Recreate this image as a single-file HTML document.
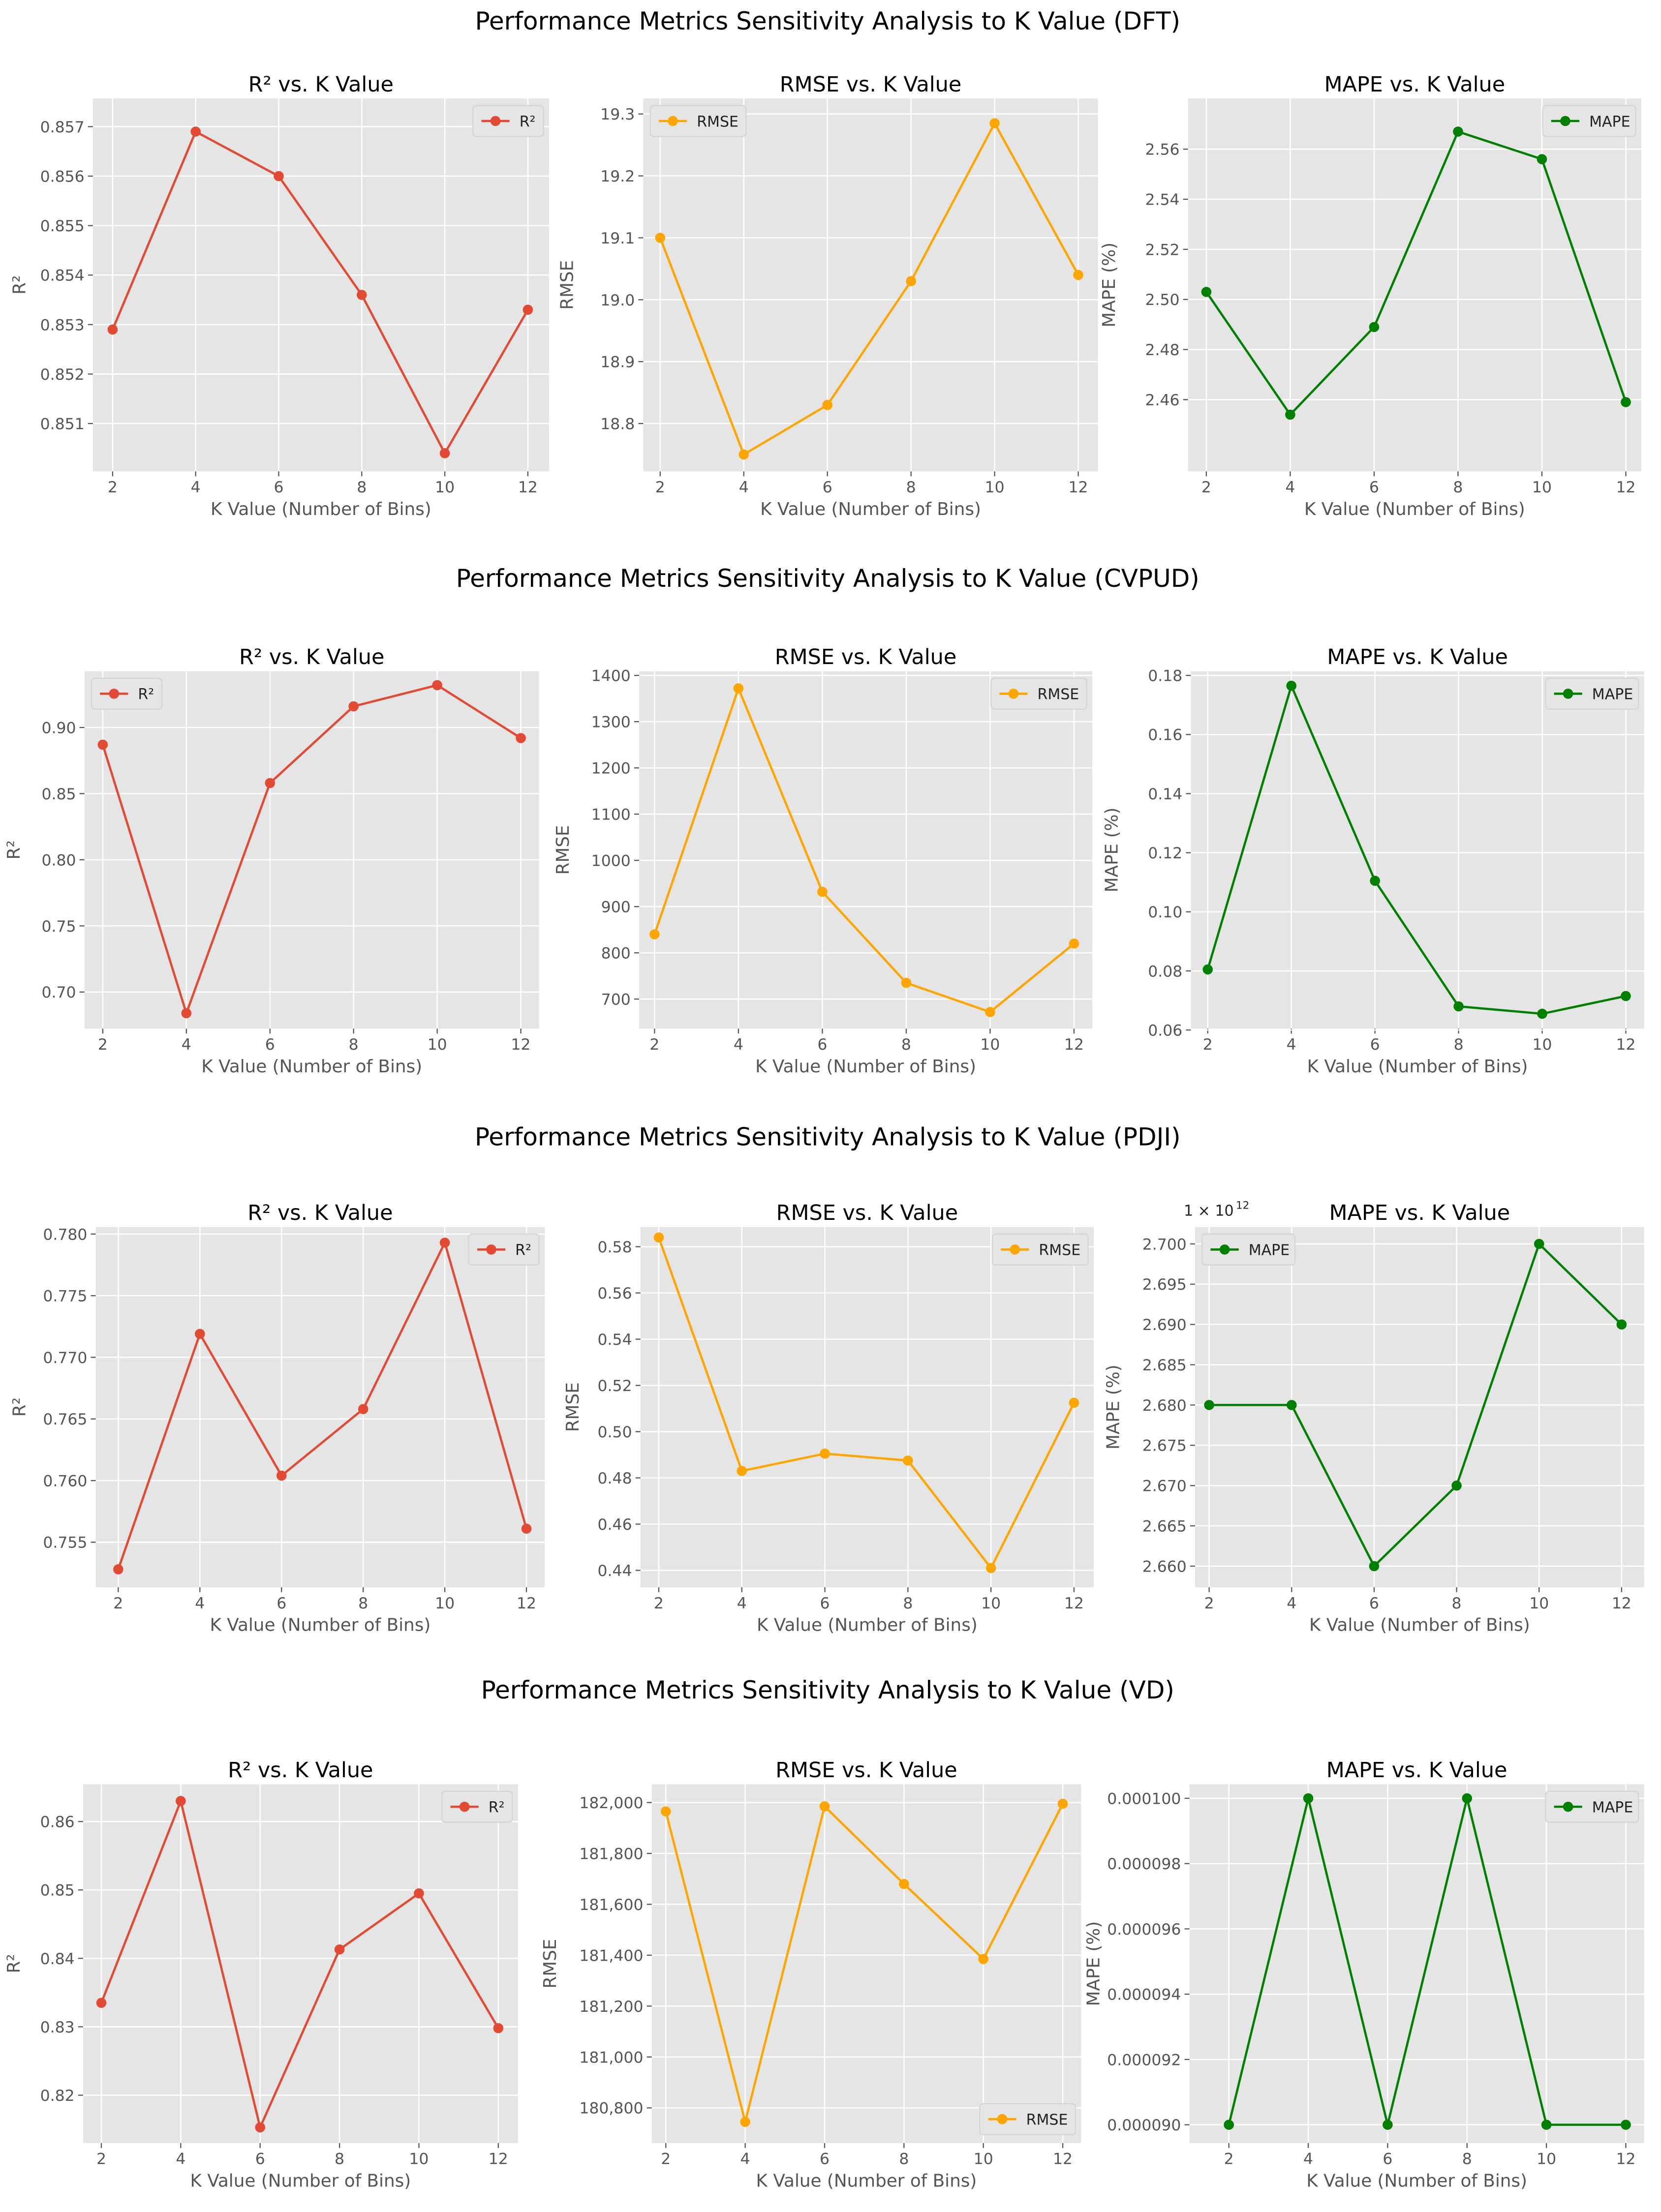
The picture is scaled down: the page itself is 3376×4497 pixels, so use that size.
<!DOCTYPE html>
<html><head><meta charset="utf-8"><style>
html,body{margin:0;padding:0;background:#fff;}
svg{display:block;font-family:"DejaVu Sans","Liberation Sans",sans-serif;}
</style></head><body>
<svg id="fig" width="3376" height="4497" viewBox="0 0 1180 1572" preserveAspectRatio="none" xmlns="http://www.w3.org/2000/svg"></svg>
<script>
const kValues = [2,4,6,8,10,12];
const dftR2 = [0.8529,0.8569,0.8560,0.8536,0.8504,0.8533];
const dftRMSE = [19.10,18.75,18.83,19.03,19.285,19.04];
const dftMAPE = [2.503,2.454,2.489,2.567,2.556,2.459];
const cvR2 = [0.887,0.684,0.858,0.916,0.932,0.892];
const cvRMSE = [840,1372,932,735,672,820];
const cvMAPE = [0.0805,0.1765,0.1105,0.068,0.0655,0.0715];
const pdR2 = [0.7528,0.7719,0.7604,0.7658,0.7793,0.7561];
const pdRMSE = [0.584,0.483,0.4905,0.4875,0.441,0.5125];
const pdMAPE = [2.68,2.68,2.66,2.67,2.70,2.69];
const vdR2 = [0.8335,0.863,0.8153,0.8413,0.8495,0.8298];
const vdRMSE = [181965,180745,181985,181680,181385,181995];
const vdMAPE = [0.000090,0.000100,0.000090,0.000100,0.000090,0.000090];

const tDftR2 = [0.851,0.852,0.853,0.854,0.855,0.856,0.857];
const lDftR2 = ["0.851","0.852","0.853","0.854","0.855","0.856","0.857"];
const tDftRMSE = [18.8,18.9,19.0,19.1,19.2,19.3];
const lDftRMSE = ["18.8","18.9","19.0","19.1","19.2","19.3"];
const tDftMAPE = [2.46,2.48,2.50,2.52,2.54,2.56];
const lDftMAPE = ["2.46","2.48","2.50","2.52","2.54","2.56"];
const tCvR2 = [0.70,0.75,0.80,0.85,0.90];
const lCvR2 = ["0.70","0.75","0.80","0.85","0.90"];
const tCvRMSE = [700,800,900,1000,1100,1200,1300,1400];
const lCvRMSE = ["700","800","900","1000","1100","1200","1300","1400"];
const tCvMAPE = [0.06,0.08,0.10,0.12,0.14,0.16,0.18];
const lCvMAPE = ["0.06","0.08","0.10","0.12","0.14","0.16","0.18"];
const tPdR2 = [0.755,0.760,0.765,0.770,0.775,0.780];
const lPdR2 = ["0.755","0.760","0.765","0.770","0.775","0.780"];
const tPdRMSE = [0.44,0.46,0.48,0.50,0.52,0.54,0.56,0.58];
const lPdRMSE = ["0.44","0.46","0.48","0.50","0.52","0.54","0.56","0.58"];
const tPdMAPE = [2.660,2.665,2.670,2.675,2.680,2.685,2.690,2.695,2.700];
const lPdMAPE = ["2.660","2.665","2.670","2.675","2.680","2.685","2.690","2.695","2.700"];
const tVdR2 = [0.82,0.83,0.84,0.85,0.86];
const lVdR2 = ["0.82","0.83","0.84","0.85","0.86"];
const tVdRMSE = [180800,181000,181200,181400,181600,181800,182000];
const lVdRMSE = ["180,800","181,000","181,200","181,400","181,600","181,800","182,000"];
const tVdMAPE = [0.000090,0.000092,0.000094,0.000096,0.000098,0.000100];
const lVdMAPE = ["0.000090","0.000092","0.000094","0.000096","0.000098","0.000100"];

const NS = "http://www.w3.org/2000/svg";
const svg = document.getElementById("fig");
function mk(tag, attrs, parent, text){
  const e = document.createElementNS(NS, tag);
  for (const k in attrs) e.setAttribute(k, attrs[k]);
  if (text !== undefined) e.textContent = text;
  (parent||svg).appendChild(e);
  return e;
}

const C = {r2:"#E24A33", rmse:"#FFA500", mape:"#008000"};

const suptitles = [
  ["Performance Metrics Sensitivity Analysis to K Value (DFT)", 15],
  ["Performance Metrics Sensitivity Analysis to K Value (CVPUD)", 411],
  ["Performance Metrics Sensitivity Analysis to K Value (PDJI)", 808],
  ["Performance Metrics Sensitivity Analysis to K Value (VD)", 1201]
];
suptitles.forEach(s=>{
  const t = mk("text",{x:588,y:s[1]+6,"text-anchor":"middle","font-size":17.5,fill:"#000"},svg,s[0]);
  
  
});

const panels = [
 {id:"dft-r2",box:[66,70,390,335],xm:[80,375],ym:[0.857,90,0.851,301],d:dftR2,t:tDftR2,l:lDftR2,c:C.r2,name:"R²",title:"R² vs. K Value",yl:"R²",leg:"ur",ylx:48},
 {id:"dft-rmse",box:[457,70,780,335],xm:[469,766],ym:[19.3,81,18.8,301],d:dftRMSE,t:tDftRMSE,l:lDftRMSE,c:C.rmse,name:"RMSE",title:"RMSE vs. K Value",yl:"RMSE",leg:"ul",ylx:50},
 {id:"dft-mape",box:[844,70,1166,335],xm:[857,1155],ym:[2.56,106,2.46,284],d:dftMAPE,t:tDftMAPE,l:lDftMAPE,c:C.mape,name:"MAPE",title:"MAPE vs. K Value",yl:"MAPE (%)",leg:"ur",ylx:52},
 {id:"cv-r2",box:[60,477,383,731],xm:[73,370],ym:[0.90,517,0.70,705],d:cvR2,t:tCvR2,l:lCvR2,c:C.r2,name:"R²",title:"R² vs. K Value",yl:"R²",leg:"ul",ylx:46},
 {id:"cv-rmse",box:[454,477,776,731],xm:[465,763],ym:[1400,480,700,710],d:cvRMSE,t:tCvRMSE,l:lCvRMSE,c:C.rmse,name:"RMSE",title:"RMSE vs. K Value",yl:"RMSE",leg:"ur",ylx:50},
 {id:"cv-mape",box:[846,477,1168,731],xm:[858,1155],ym:[0.18,480,0.06,732],d:cvMAPE,t:tCvMAPE,l:lCvMAPE,c:C.mape,name:"MAPE",title:"MAPE vs. K Value",yl:"MAPE (%)",leg:"ur",ylx:52},
 {id:"pd-r2",box:[68,872,387,1128],xm:[84,374],ym:[0.780,877,0.755,1096],d:pdR2,t:tPdR2,l:lPdR2,c:C.r2,name:"R²",title:"R² vs. K Value",yl:"R²",leg:"ur",ylx:50},
 {id:"pd-rmse",box:[455,872,777,1128],xm:[468,763],ym:[0.58,886,0.44,1116],d:pdRMSE,t:tPdRMSE,l:lPdRMSE,c:C.rmse,name:"RMSE",title:"RMSE vs. K Value",yl:"RMSE",leg:"ur",ylx:44},
 {id:"pd-mape",box:[849,872,1168,1128],xm:[859,1152],ym:[2.700,884,2.660,1113],d:pdMAPE,t:tPdMAPE,l:lPdMAPE,c:C.mape,name:"MAPE",title:"MAPE vs. K Value",yl:"MAPE (%)",leg:"ul",offset:true,ylx:54},
 {id:"vd-r2",box:[59,1268,368,1523],xm:[72,354],ym:[0.86,1294.5,0.82,1489],d:vdR2,t:tVdR2,l:lVdR2,c:C.r2,name:"R²",title:"R² vs. K Value",yl:"R²",leg:"ur",ylx:45},
 {id:"vd-rmse",box:[463,1268,768,1523],xm:[473,755],ym:[182000,1281,180800,1498],d:vdRMSE,t:tVdRMSE,l:lVdRMSE,c:C.rmse,name:"RMSE",title:"RMSE vs. K Value",yl:"RMSE",leg:"lr",ylx:68},
 {id:"vd-mape",box:[845,1268,1168,1523],xm:[873,1155],ym:[0.000100,1278,0.000090,1510],d:vdMAPE,t:tVdMAPE,l:lVdMAPE,c:C.mape,name:"MAPE",title:"MAPE vs. K Value",yl:"MAPE (%)",leg:"ur",ylx:64}
];

panels.forEach(p=>{
  const [L,T,R,B] = p.box;
  const xs = k => p.xm[0] + (k-2)*(p.xm[1]-p.xm[0])/10;
  const ys = v => p.ym[1] + (v-p.ym[0])*(p.ym[3]-p.ym[1])/(p.ym[2]-p.ym[0]);
  const g = mk("g",{});
  
  
  const bg = mk("rect",{x:L,y:T,width:R-L,height:B-T,fill:"#E5E5E5"},g);
  
  
  kValues.forEach(k=>{
    mk("line",{x1:xs(k),x2:xs(k),y1:T,y2:B,stroke:"#fff","stroke-width":0.9},g);
    mk("line",{x1:xs(k),x2:xs(k),y1:B,y2:B+3.5,stroke:"#555","stroke-width":0.8},g);
    const tl = mk("text",{x:xs(k),y:B+15,"text-anchor":"middle","font-size":11,fill:"#555"},g,String(k));
    
    
  });
  p.t.forEach((v,i)=>{
    const y = ys(v);
    mk("line",{x1:L,x2:R,y1:y,y2:y,stroke:"#fff","stroke-width":0.9},g);
    mk("line",{x1:L-3.5,x2:L,y1:y,y2:y,stroke:"#555","stroke-width":0.8},g);
    const tl = mk("text",{x:L-6,y:y+4,"text-anchor":"end","font-size":11,fill:"#555"},g,p.l[i]);
    
    
  });
  const pts = p.d.map((v,i)=>xs(kValues[i]).toFixed(2)+","+ys(v).toFixed(2)).join(" ");
  const pl = mk("polyline",{points:pts,fill:"none",stroke:p.c,"stroke-width":1.6},g);
  
  
  p.d.forEach((v,i)=>{
    const c = mk("circle",{cx:xs(kValues[i]),cy:ys(v),r:3.6,fill:p.c},g);
    
    
  });
  const tt = mk("text",{x:(L+R)/2,y:T-5,"text-anchor":"middle","font-size":15,fill:"#000"},g,p.title);
  
  
  const xl = mk("text",{x:(L+R)/2,y:B+31,"text-anchor":"middle","font-size":12.5,fill:"#555"},g,"K Value (Number of Bins)");
  
  
  const yx = L - p.ylx;
  const yl = mk("text",{x:yx,y:(T+B)/2,"text-anchor":"middle","font-size":12.5,fill:"#555",transform:"rotate(-90 "+yx+" "+(T+B)/2+")"},g,p.yl);
  
  
  if (p.offset){
    const ot = mk("text",{x:L-8,y:T-8,"font-size":10.5,fill:"#222"},g,"1 × 10");
    
    
    mk("text",{x:L+29,y:T-13,"font-size":7.5,fill:"#222"},g,"12");
  }
  const w = p.name==="R²" ? 50 : (p.name==="RMSE"?68:66), h = 22;
  let lx, ly;
  if (p.leg==="ur"){ lx=R-w-4; ly=T+5; }
  else if (p.leg==="ul"){ lx=L+5; ly=T+5; }
  else { lx=R-w-4; ly=B-h-6; }
  const lg = mk("g",{},g);
  
  
  mk("rect",{x:lx,y:ly,width:w,height:h,rx:2.5,fill:"#E5E5E5",stroke:"#d4d4d4","stroke-width":0.8},lg);
  mk("line",{x1:lx+6,x2:lx+26,y1:ly+h/2,y2:ly+h/2,stroke:p.c,"stroke-width":1.6},lg);
  mk("circle",{cx:lx+16,cy:ly+h/2,r:3.6,fill:p.c},lg);
  mk("text",{x:lx+33,y:ly+h/2+4,"font-size":10.5,fill:"#222"},lg,p.name);
});
</script>
</body></html>
